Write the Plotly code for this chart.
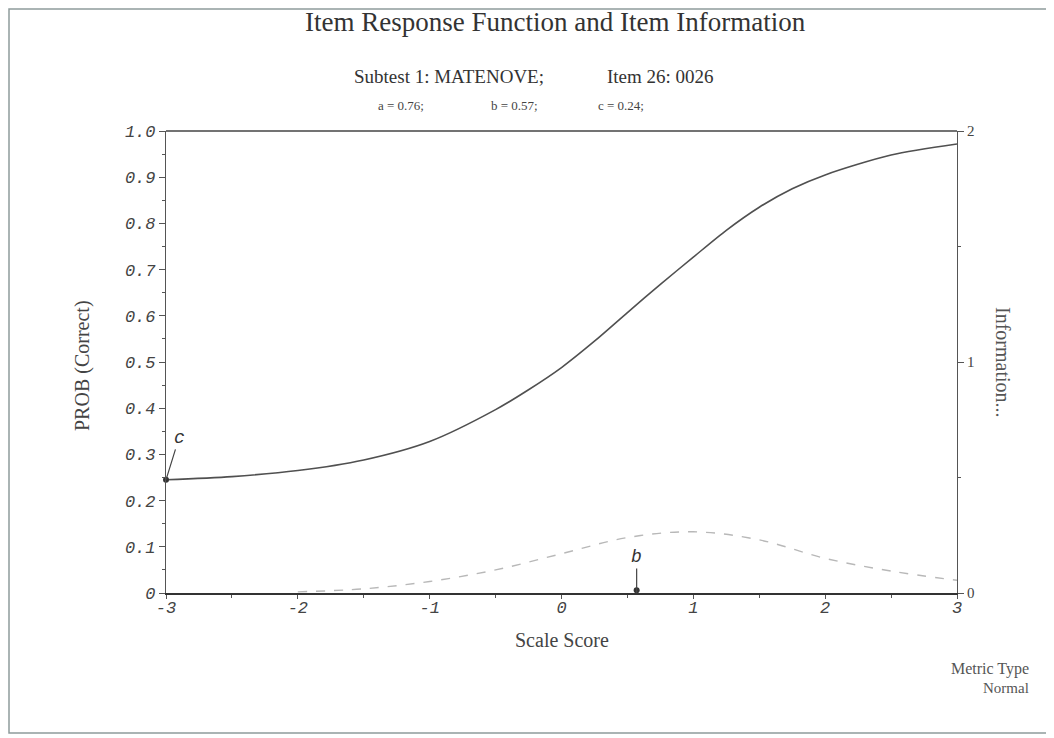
import plotly.graph_objects as go

# ---- data ----
theta_irf = [-3.0, -2.5, -2.0, -1.5, -1.0, -0.5, -0.25, 0.0, 0.25, 0.5, 0.75, 1.0, 1.25, 1.5, 1.75, 2.0, 2.5, 3.0]
prob_irf = [0.245, 0.252, 0.265, 0.288, 0.328, 0.397, 0.44, 0.488, 0.545, 0.607, 0.668, 0.727, 0.785, 0.835, 0.875, 0.905, 0.948, 0.972]

theta_info = [-2.0, -1.5, -1.0, -0.5, 0.0, 0.5, 1.0, 1.5, 2.0, 2.5, 3.0]
info_vals = [0.005, 0.018, 0.05, 0.10, 0.17, 0.24, 0.265, 0.23, 0.15, 0.095, 0.055]

param_a = 0.76
param_b = 0.57
param_c = 0.24
c_point_prob = 0.245

x_tick_vals = [-3, -2, -1, 0, 1, 2, 3]
x_tick_text = ["-3", "-2", "-1", "0", "1", "2", "3"]
y_tick_vals = [0, 0.1, 0.2, 0.3, 0.4, 0.5, 0.6, 0.7, 0.8, 0.9, 1.0]
y_tick_text = ["0", "0.1", "0.2", "0.3", "0.4", "0.5", "0.6", "0.7", "0.8", "0.9", "1.0"]
y2_tick_vals = [0, 1, 2]
y2_tick_text = ["0", "1", "2"]

SERIF = "Liberation Serif, Times New Roman, serif"
MONO = "Liberation Mono, Courier New, monospace"
AX = "#555555"

# page body has an 8px margin; the figure is offset accordingly
OFF = 8
W, H = 1054 - OFF, 738 - OFF
# plot-area edges in reference-picture pixels
L, R, T, B = 166, 957, 131, 593

fig = go.Figure()

fig.add_trace(go.Scatter(
    x=theta_info, y=info_vals, yaxis="y2", mode="lines",
    line=dict(color="#b8b8b8", width=1.4, dash="dash", shape="spline"),
    showlegend=False, hoverinfo="skip"))

fig.add_trace(go.Scatter(
    x=theta_irf, y=prob_irf, mode="lines",
    line=dict(color="#505050", width=1.6, shape="spline", smoothing=0.8),
    showlegend=False, hoverinfo="skip"))

fig.add_trace(go.Scatter(
    x=[-3.0], y=[c_point_prob], mode="markers", cliponaxis=False,
    marker=dict(color="#333333", size=6), showlegend=False, hoverinfo="skip"))
fig.add_trace(go.Scatter(
    x=[param_b], y=[0.006], mode="markers", cliponaxis=False,
    marker=dict(color="#333333", size=6), showlegend=False, hoverinfo="skip"))

fig.update_layout(
    width=W, height=H,
    margin=dict(l=L - OFF, r=W - (R - OFF), t=T - OFF, b=H - (B - OFF), pad=0),
    paper_bgcolor="white", plot_bgcolor="white",
    xaxis=dict(range=[-3, 3], tickvals=x_tick_vals, ticktext=x_tick_text,
               showgrid=False, zeroline=False, showline=True, linecolor="#333333", linewidth=2,
               ticks="outside", ticklen=4, tickcolor=AX, tickwidth=1, ticklabelstandoff=-6,
               minor=dict(dtick=0.5, ticks="outside", ticklen=3, tickcolor=AX),
               tickfont=dict(family=MONO, size=17, color="#444444", style="italic")),
    yaxis=dict(range=[0, 1.0], tickvals=y_tick_vals, ticktext=y_tick_text,
               showgrid=False, zeroline=False, showline=True, linecolor=AX, linewidth=1.2,
               ticks="outside", ticklen=6, tickcolor=AX, tickwidth=1,
               minor=dict(dtick=0.05, ticks="outside", ticklen=3, tickcolor=AX),
               tickfont=dict(family=MONO, size=17, color="#444444", style="italic")),
    yaxis2=dict(range=[0, 2], overlaying="y", side="right", tickvals=y2_tick_vals, ticktext=y2_tick_text,
                showgrid=False, zeroline=False, showline=True, linecolor=AX, linewidth=1.2,
                ticks="outside", ticklen=6, tickcolor=AX, tickwidth=1,
                minor=dict(dtick=0.5, ticks="outside", ticklen=3, tickcolor=AX),
                tickfont=dict(family=SERIF, size=15, color="#444444")),
)


def px(xp):
    return (xp - L) / (R - L)


def py(yp):
    return (B - yp) / (B - T)


annotations = [
    dict(text="Item Response Function and Item Information", x=px(555), y=py(22),
         font=dict(family=SERIF, size=27, color="#333333")),
    dict(text="Subtest 1: MATENOVE;", x=px(449), y=py(76),
         font=dict(family=SERIF, size=19, color="#333333")),
    dict(text="Item 26: 0026", x=px(660), y=py(76),
         font=dict(family=SERIF, size=19, color="#333333")),
    dict(text=f"a = {param_a:.2f};", x=px(401), y=py(105),
         font=dict(family=SERIF, size=13, color="#444444")),
    dict(text=f"b = {param_b:.2f};", x=px(514), y=py(105),
         font=dict(family=SERIF, size=13, color="#444444")),
    dict(text=f"c = {param_c:.2f};", x=px(621), y=py(105),
         font=dict(family=SERIF, size=13, color="#444444")),
    dict(text="PROB (Correct)", x=px(82), y=py(366), textangle=-90,
         font=dict(family=SERIF, size=20, color="#444444")),
    dict(text="Information...", x=px(1003), y=py(362), textangle=90,
         font=dict(family=SERIF, size=20, color="#555555")),
    dict(text="Scale Score", x=px(562), y=py(640),
         font=dict(family=SERIF, size=20, color="#444444")),
    dict(text="Metric Type", x=px(990), y=py(669),
         font=dict(family=SERIF, size=16, color="#555555")),
    dict(text="Normal", x=px(1006), y=py(688),
         font=dict(family=SERIF, size=15, color="#555555")),
]
for a in annotations:
    a.update(xref="paper", yref="paper", showarrow=False, xanchor="center", yanchor="middle")

annotations.append(dict(x=-3.0, y=c_point_prob, xref="x", yref="y", ax=13, ay=-42,
                        text="<i>c</i>", showarrow=True, arrowhead=0, arrowwidth=1.2,
                        arrowcolor="#444444", standoff=0,
                        font=dict(family=MONO, size=18, color="#333333")))
annotations.append(dict(x=param_b, y=0.0, xref="x", yref="y", ax=0, ay=-36,
                        text="<i>b</i>", showarrow=True, arrowhead=0, arrowwidth=1.2,
                        arrowcolor="#444444", standoff=0,
                        font=dict(family=MONO, size=18, color="#333333")))

fig.update_layout(annotations=annotations)

shapes = [
    dict(type="line", xref="paper", yref="paper", x0=0, x1=1, y0=1, y1=1,
         line=dict(color="#444444", width=1.5)),
    dict(type="rect", xref="paper", yref="paper", x0=px(9), x1=px(1049), y0=py(733), y1=py(9),
         line=dict(color="#8f9c9c", width=1.5), layer="below"),
]
fig.update_layout(shapes=shapes)

fig.write_html("out.html")
